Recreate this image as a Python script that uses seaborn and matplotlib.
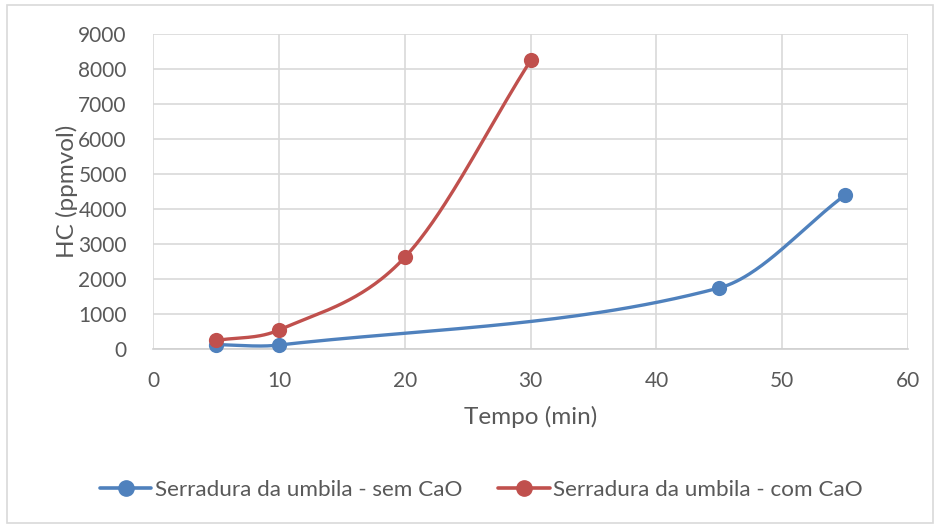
import matplotlib
matplotlib.use('Agg')
import matplotlib.pyplot as plt
from matplotlib.lines import Line2D
from matplotlib.patches import Rectangle
import numpy as np
import pandas as pd
import seaborn as sns

# dados
tempo_sem = [5, 10, 45, 55]
hc_sem = [120, 110, 1745, 4400]
tempo_com = [5, 10, 20, 30]
hc_com = [240, 540, 2620, 8250]
nome_sem = "Serradura da umbila - sem CaO"
nome_com = "Serradura da umbila - com CaO"
azul = '#4f81bd'
vermelho = '#c0504d'


def curva_suave(x, y, n=60):
    # linha suavizada (Hermite cúbica com inclinações por diferenças centrais)
    x = np.asarray(x, float)
    y = np.asarray(y, float)
    m = np.zeros_like(y)
    m[0] = (y[1] - y[0]) / (x[1] - x[0])
    m[-1] = (y[-1] - y[-2]) / (x[-1] - x[-2])
    for i in range(1, len(x) - 1):
        m[i] = (y[i + 1] - y[i - 1]) / (x[i + 1] - x[i - 1])
    xs, ys = [], []
    t = np.linspace(0, 1, n)
    for i in range(len(x) - 1):
        h = x[i + 1] - x[i]
        h00 = 2 * t ** 3 - 3 * t ** 2 + 1
        h10 = t ** 3 - 2 * t ** 2 + t
        h01 = -2 * t ** 3 + 3 * t ** 2
        h11 = t ** 3 - t ** 2
        xs.extend(x[i] + h * t)
        ys.extend(h00 * y[i] + h10 * h * m[i] + h01 * y[i + 1] + h11 * h * m[i + 1])
    return xs, ys


sns.set_style('white')
plt.rcParams['font.family'] = ['Lato', 'DejaVu Sans']

fig = plt.figure(figsize=(9.4, 5.27), dpi=100)
ax = fig.add_axes([0.163, 0.338, 0.803, 0.597])

for tx, hy, cor in [(tempo_sem, hc_sem, azul), (tempo_com, hc_com, vermelho)]:
    sx, sy = curva_suave(tx, hy)
    df = pd.DataFrame({'x': sx, 'y': sy})
    sns.lineplot(data=df, x='x', y='y', sort=False, estimator=None, color=cor,
                 linewidth=2.4, ax=ax, zorder=3)
    sns.scatterplot(x=tx, y=hy, color=cor, s=120, edgecolor=cor, linewidth=0,
                    ax=ax, zorder=4, clip_on=False)

ax.set_xlim(0, 60)
ax.set_ylim(0, 9000)
ax.set_xticks(range(0, 61, 10))
ax.set_yticks(range(0, 9001, 1000))
ax.grid(True, color='#d9d9d9', linewidth=1.2)
for lado in ['top', 'right', 'left']:
    ax.spines[lado].set_visible(False)
ax.spines['bottom'].set_color('#d0d0d0')
ax.spines['bottom'].set_linewidth(1.2)
ax.tick_params(length=0, labelsize=15, labelcolor='#595959')
ax.tick_params(axis='x', pad=16)
ax.tick_params(axis='y', pad=19)
ax.set_xlabel('Tempo (min)', fontsize=17.5, color='#595959', labelpad=11)
ax.set_ylabel('HC (ppmvol)', fontsize=17.5, color='#595959', labelpad=0)

handles = [Line2D([], [], color=azul, lw=2.6, marker='o', markersize=11),
           Line2D([], [], color=vermelho, lw=2.6, marker='o', markersize=11)]
fig.legend(handles, [nome_sem, nome_com], loc='center', bbox_to_anchor=(0.512, 0.07),
           ncol=2, frameon=False, fontsize=16.2, labelcolor='#595959',
           handlelength=2.3, handletextpad=0.15, columnspacing=1.6)

fig.patches.append(Rectangle((0.007, 0.008), 0.986, 0.982, transform=fig.transFigure,
                             fill=False, edgecolor='#d9d9d9', linewidth=1.2))

fig.savefig('out.png', dpi=100)
plt.close(fig)
